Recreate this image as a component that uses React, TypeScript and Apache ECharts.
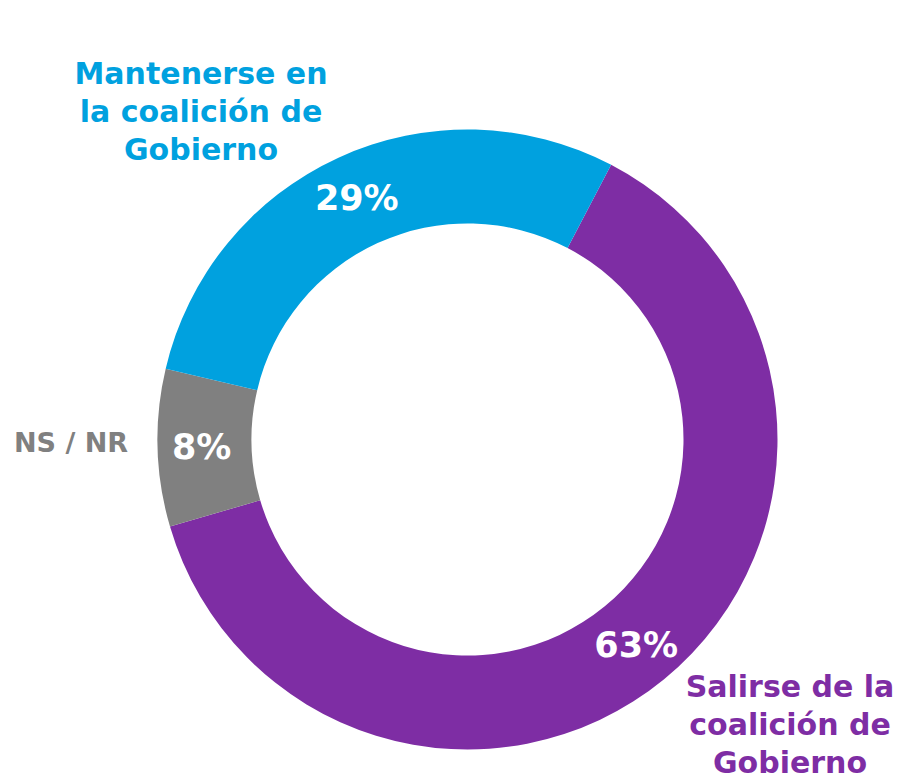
import React, { useEffect, useRef } from "react";
import * as echarts from "echarts";

const categories = [
  "Salirse de la\ncoalición de\nGobierno",
  "NS / NR",
  "Mantenerse en\nla coalición de\nGobierno",
];
const values = [62.8, 8.2, 29.0];
const colors = ["#7E2DA4", "#808080", "#00A1DF"];
const labelPositions: [number, number][] = [
  [790, 724],
  [71, 442],
  [201, 111],
];

const FONT = '"DejaVu Sans", "Open Sans", sans-serif';

export default function App() {
  const ref = useRef<HTMLDivElement>(null);
  useEffect(() => {
    if (!ref.current) return;
    const chart = echarts.init(ref.current, null, { renderer: "svg" });
    chart.setOption({
      animation: false,
      backgroundColor: "#ffffff",
      series: [
        {
          type: "pie",
          center: [467.5, 439.5],
          radius: [216, 310],
          startAngle: 62.4,
          clockwise: true,
          silent: true,
          avoidLabelOverlap: false,
          label: {
            show: true,
            position: "inside",
            formatter: (p: any) => `${Math.round(p.value)}%`,
            color: "#ffffff",
            fontSize: 35,
            fontWeight: "bold",
            fontFamily: FONT,
          },
          labelLine: { show: false },
          itemStyle: { borderWidth: 0 },
          data: categories.map((name, i) => ({
            name,
            value: values[i],
            itemStyle: { color: colors[i] },
          })),
        },
      ],
      graphic: categories.map((name, i) => ({
        type: "text",
        x: labelPositions[i][0],
        y: labelPositions[i][1],
        style: {
          text: name,
          fill: colors[i],
          fontSize: i === 1 ? 27 : 30,
          fontWeight: "bold",
          fontFamily: FONT,
          align: "center",
          verticalAlign: "middle",
          lineHeight: 38,
        },
      })),
    });
    return () => chart.dispose();
  }, []);
  return (
    <div
      ref={ref}
      style={{ position: "fixed", left: 0, top: 0, width: 907, height: 778 }}
    />
  );
}
